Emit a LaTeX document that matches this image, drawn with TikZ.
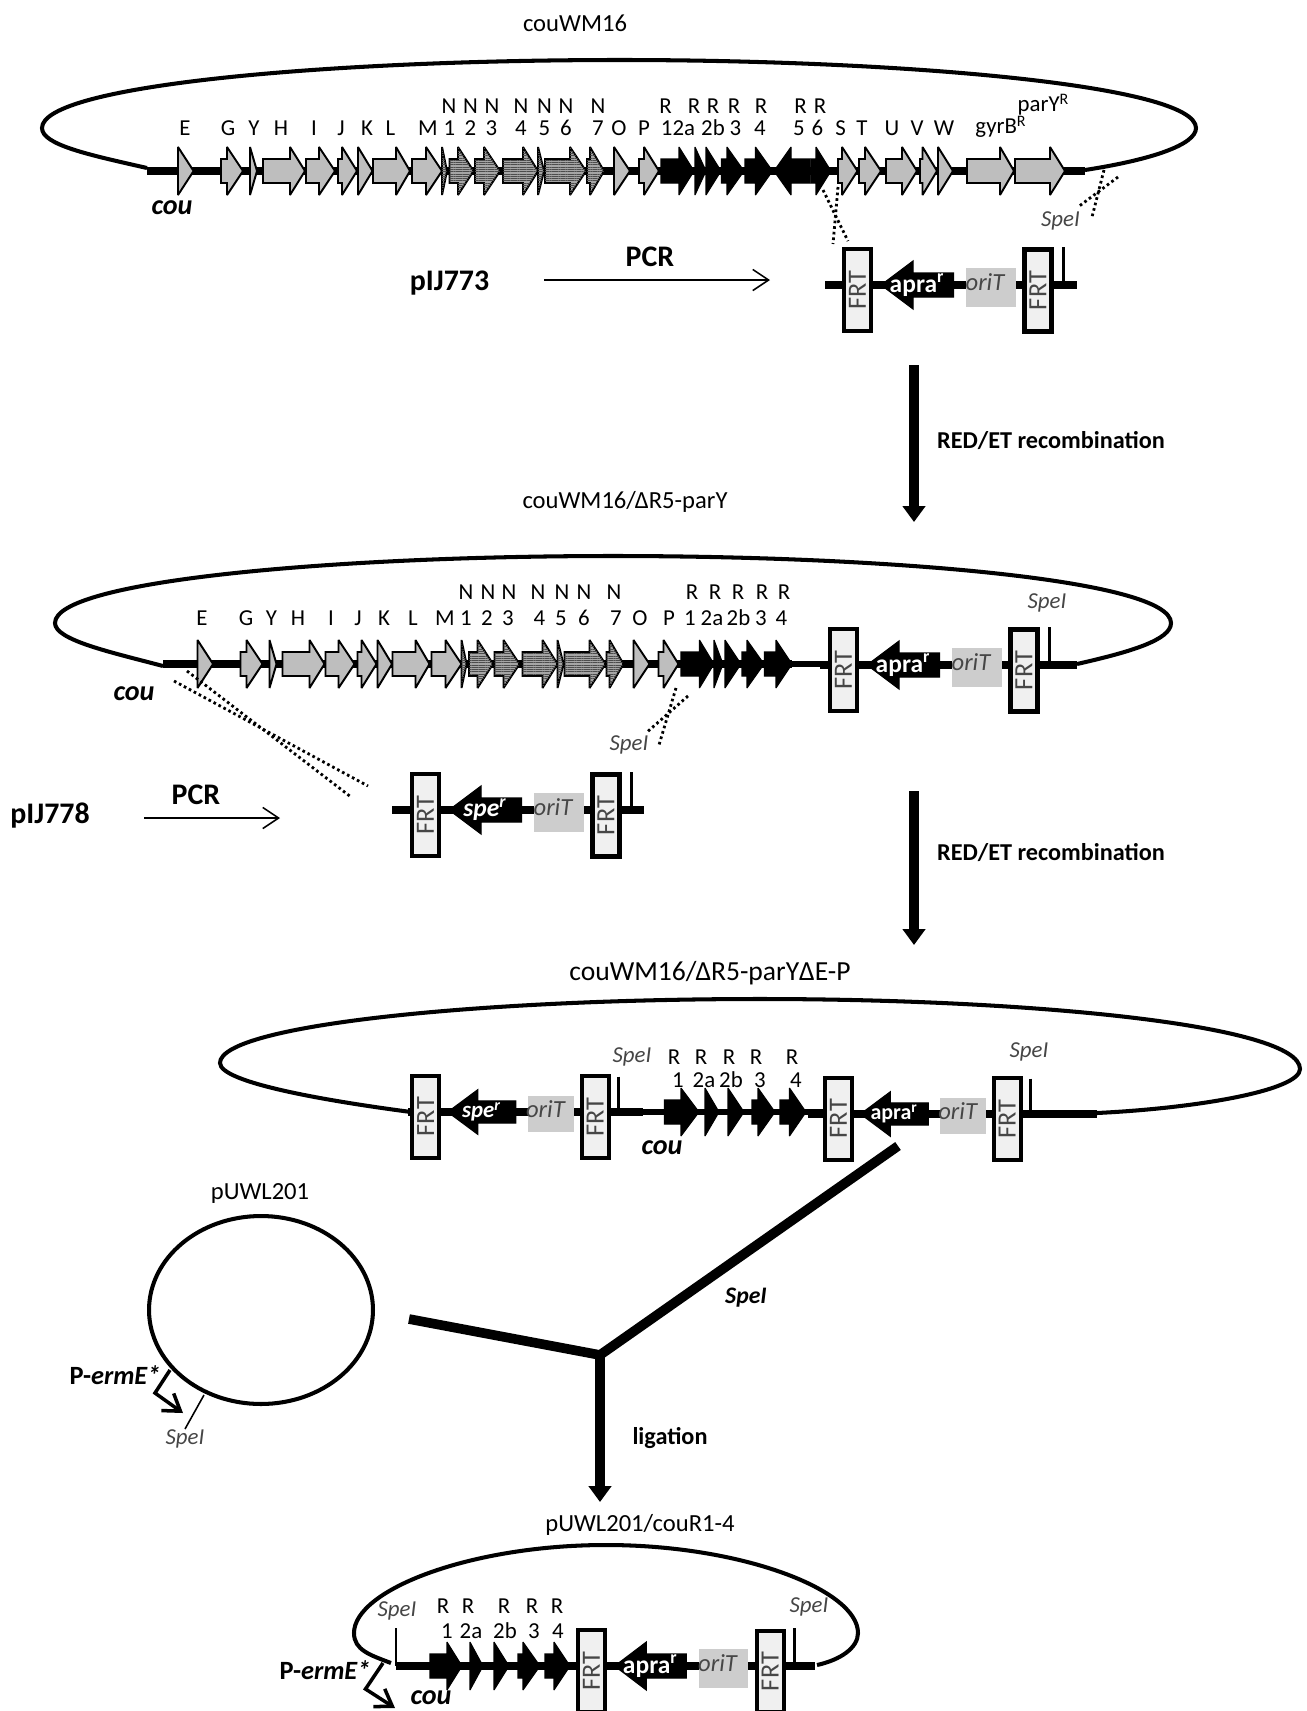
\documentclass[tikz,border=0pt]{standalone}
\usepackage{fontspec}
\setmainfont{Carlito}
\usepackage{xcolor}
\usepackage{tikz}
\usetikzlibrary{arrows.meta,patterns.meta,shapes.geometric}
\definecolor{genegrey}{RGB}{190,190,190}
\definecolor{hatchgrey}{RGB}{165,165,165}
\definecolor{oritgrey}{RGB}{205,205,205}
\definecolor{frtgrey}{RGB}{240,240,240}
\definecolor{inkgrey}{RGB}{70,70,70}

% one gene: start, head base, tip, axis
\newcommand{\genearrow}[5][greygene]{%
    \draw[#1] (#2,#5-12) -- (#3,#5-12) -- (#3,#5-24) -- (#4,#5)
        -- (#3,#5+24) -- (#3,#5+12) -- (#2,#5+12) -- cycle;}
% genes E to P of the cluster
\newcommand{\cougenes}{%
    \foreach \a/\b/\c in {178/178/193.6,221/227/243,250/250/257,263/290/305,306/319/335,
        338/342/357,358/358/372.5,373/396/410,412/426/442}
        {\genearrow{\a}{\b}{\c}{171}}
    \foreach \a/\b/\c in {442/442/447,449.5/458/473.5,475/484/500,503/523/538,538/538/544,
        545/570/586,587/590/604}
        {\genearrow[hatchgene]{\a}{\b}{\c}{171}}
    \foreach \a/\b/\c in {614/614/630,639/644/659}
        {\genearrow{\a}{\b}{\c}{171}}}
% resistance cassette between two FRT sites
\newcommand{\cassette}[8]{%
    \begin{scope}[shift={(#1,#2)},xscale=#3,yscale=#4]
        \draw[backbone] (#6,0) -- (#7,0);
        \draw[tick] (221,-38) -- (221,0);
        \genearrow[blackgene]{111.5}{71}{39}{0}
        \node[frtbox] (#8a) at (15.5,5) {}; 
        \node[frtbox] (#8b) at (196,5.5) {};
        \node[frttext] (#8at) at (15.5,5) {FRT};
        \node[frttext] (#8bt) at (196,5.5) {FRT};
        \fill[oritgrey] (124,-17) rectangle (173.5,22);
        \node[orilabel] (#8o) at (143,-3) {oriT};
        \node[reslabel] (#8r) at (75,0) {#5};
    \end{scope}}

\begin{document}
\begin{tikzpicture}[x=0.02cm, y=-0.02cm,
    every node/.style={font=\fontsize{13.5}{15}\selectfont, inner sep=0pt},
    greygene/.style={draw=black, line width=1.1pt, miter limit=2.5, fill=genegrey},
    hatchgene/.style={draw=black, line width=1.1pt, miter limit=2.5, fill=hatchgrey,
        postaction={pattern={Lines[angle=0,distance=1.3pt,line width=.3pt]}, pattern color=black!70}},
    blackgene/.style={draw=black, line width=.6pt, miter limit=2.5, fill=black},
    backbone/.style={line width=4.5pt, black},
    thinbone/.style={line width=3pt, black},
    plasmid/.style={line width=2.3pt, black},
    tick/.style={line width=1.7pt, black},
    dotline/.style={line width=1.6pt, black, dash pattern=on 1.5pt off 1.7pt},
    pcrarrow/.style={-{Straight Barb[length=9pt,width=12pt]}, line width=.9pt, black},
    bigarrow/.style={-{Triangle[length=9pt,width=12.5pt]}, line width=5.5pt, black},
    promoter/.style={-{Straight Barb[length=9pt,width=12pt]}, line width=2pt, black},
    frtbox/.style={draw=black, line width=2.3pt, fill=frtgrey, minimum width=.54cm, minimum height=1.64cm},
    frttext/.style={rotate=90, text=inkgrey, font=\fontsize{15}{15}\selectfont},
    orilabel/.style={text=inkgrey, font=\fontsize{14}{15}\itshape\selectfont},
    reslabel/.style={text=white, font=\fontsize{14.5}{15}\bfseries\selectfont},
    genelabel/.style={text height=8.6pt, text depth=0pt, font=\fontsize{13}{15}\selectfont},
    spelabel/.style={text=inkgrey, font=\fontsize{13}{15}\itshape\selectfont},
    coulabel/.style={font=\fontsize{16}{18}\bfseries\itshape\selectfont},
    titlelabel/.style={font=\fontsize{14}{15}\selectfont},
    pcrlabel/.style={font=\fontsize{17}{18}\bfseries\selectfont},
    steplabel/.style={font=\fontsize{13.8}{15}\bfseries\selectfont},
    prolabel/.style={font=\fontsize{15}{15}\bfseries\selectfont}
]
    \useasboundingbox (0,0) rectangle (1306,1711);

    % couWM16
    \node[titlelabel] (wm) at (575,23) {couWM16};
    \draw[plasmid] (147,168) .. controls (90,155) and (42,145) .. (42,128)
        .. controls (42,85) and (330,60) .. (620,60)
        .. controls (900,60) and (1196,85) .. (1196,128)
        .. controls (1196,145) and (1150,160) .. (1085,170);
    \draw[backbone] (147,171) -- (1085,171);
    \cougenes
    \foreach \a/\b/\c in {661/679/694,695/695/706,706/706/721,721.5/727/744,745/755.5/772.5,
        810/791/774,811/816/831}
        {\genearrow[blackgene]{\a}{\b}{\c}{171}}
    \foreach \a/\b/\c in {838/842/857.5,859/865/881,886/902/917,920/922.5/937,938/938/953,
        967/1000/1014,1015/1050/1065}
        {\genearrow{\a}{\b}{\c}{171}}
    % Gene names
    \foreach \lx/\lt [count=\i] in {185/E,228/G,254/Y,281/H,314/I,341/J,367/K,390.5/L,428/M,449.5/1,
        470.5/2,491.5/3,521/4,544.5/5,566/6,598/7,619/O,644/P,678/12a,713/2b,
        735.5/3,760/4,799/5,817.5/6,840.5/S,862/T,892/U,917/V,944/W}
        {\node[genelabel] (wmlow\i) at (\lx,128) {\lt};}
    \foreach \lx/\lt [count=\i] in {449/N,470.5/N,492/N,521/N,544.5/N,566/N,598/N,665.5/R,694/R,713/R,
        734/R,761/R,800.5/R,820/R}
        {\node[genelabel] (wmup\i) at (\lx,106) {\lt};}
    \node[genelabel, text depth=2pt] (gyr) at (1001,128) {gyrB\textsuperscript{R}};
    \node[genelabel, text depth=2pt] (par) at (1043.5,106) {parY\textsuperscript{R}};
    \node[coulabel] (couA) at (172,208) {cou};
    % Dotted homology lines
    \draw[dotline] (823,190) -- (848,241);
    \draw[dotline] (838,187) -- (833,244);
    \draw[dotline] (1104,170) -- (1092,217);
    \draw[dotline] (1118,177) -- (1078,207);
    \node[spelabel] (speA) at (1060.5,221) {SpeI};

    % PCR product with apra
    \node[pcrlabel] (pa) at (449.5,283) {pIJ773};
    \node[pcrlabel] (pcrA) at (650,257) {PCR};
    \coordinate (pcrAs) at (544,280);
    \coordinate (pcrAe) at (770,280);
    \draw[pcrarrow] (pcrAs) -- (pcrAe);
    \cassette{842}{285}{1}{1}{apra\textsuperscript{r}}{-17}{235}{ca}

    \coordinate (recAs) at (914,365);
    \coordinate (recAe) at (914,522);
    \draw[bigarrow] (recAs) -- (recAe);
    \node[steplabel] (recA) at (1051,441) {RED/ET recombination};

    % couWM16/dR5-parY
    \node[titlelabel] (dr) at (625,502) {couWM16/ΔR5-parY};
    \draw[plasmid] (163,666) .. controls (110,652) and (55,640) .. (55,623)
        .. controls (55,580) and (340,556) .. (613,556)
        .. controls (890,556) and (1171,580) .. (1171,623)
        .. controls (1171,640) and (1130,652) .. (1077,664);
    \draw[backbone] (163,664) -- (792,664);
    \draw[thinbone] (792,664) -- (828,664);
    \begin{scope}[shift={(19.5,493)}]
        \cougenes
    \end{scope}
    \foreach \a/\b/\c in {681/699.5/714,714/714/723,725/725/741,742/747/764,764.5/776/792}
        {\genearrow[blackgene]{\a}{\b}{\c}{664}}
    \cassette{828}{665}{1}{1}{apra\textsuperscript{r}}{-8}{249}{cb}
    \foreach \lx/\lt [count=\i] in {202/E,246/G,271.5/Y,298/H,331/I,358/J,384/K,413/L,445/M,466/1,
        487/2,508/3,539.5/4,561/5,584/6,616/7,640/O,669/P,690/1,712/2a,738.5/2b,761/3,781.5/4}
        {\node[genelabel] (drlow\i) at (\lx,618) {\lt};}
    \foreach \lx/\lt [count=\i] in {466/N,488/N,509/N,538/N,562/N,584/N,614/N,692/R,715/R,738/R,
        762/R,784/R}
        {\node[genelabel] (drup\i) at (\lx,592) {\lt};}
    \node[coulabel] (couB) at (134,694) {cou};
    \node[spelabel] (speB) at (1047,603) {SpeI};
    \draw[dotline] (187,671) -- (351,797);
    \draw[dotline] (174,681) -- (368,786);
    \draw[dotline] (676,688) -- (659,745);
    \draw[dotline] (688,696) -- (646,733);
    \node[spelabel] (speC) at (629,745) {SpeI};

    % PCR product with spe
    \node[pcrlabel] (pb) at (50,816) {pIJ778};
    \node[pcrlabel] (pcrB) at (196,795) {PCR};
    \coordinate (pcrBs) at (144,818);
    \coordinate (pcrBe) at (280,818);
    \draw[pcrarrow] (pcrBs) -- (pcrBe);
    \cassette{410}{810}{1}{1}{\itshape spe\textsuperscript{r}}{-18}{234}{cc}

    \coordinate (recBs) at (914,791);
    \coordinate (recBe) at (914,945);
    \draw[bigarrow] (recBs) -- (recBe);
    \node[steplabel] (recB) at (1051,853) {RED/ET recombination};

    % couWM16/dR5-parYdE-P
    \node[font=\fontsize{15.7}{17}\selectfont] (de) at (710,973) {couWM16/ΔR5-parYΔE-P};
    \draw[plasmid] (411,1112) .. controls (320,1100) and (220,1082) .. (220,1063)
        .. controls (220,1025) and (480,999) .. (760,999)
        .. controls (1030,999) and (1300,1025) .. (1300,1069)
        .. controls (1300,1090) and (1200,1108) .. (1097,1113);
    \draw[thinbone] (643,1112) -- (824,1112);
    \cassette{411}{1112}{.94}{.93}{\fontsize{13}{15}\selectfont\itshape spe\textsuperscript{r}}{-3}{247}{cd}
    \foreach \a/\b/\c in {664.5/681/699,705/705/719,728/728/744,752/758/775,780/789.5/806}
        {\genearrow[blackgene]{\a}{\b}{\c}{1112}}
    \cassette{824}{1114}{.935}{.93}{\fontsize{12.5}{15}\selectfont apra\textsuperscript{r}}{-17}{292}{ce}
    \foreach \lx/\lt [count=\i] in {678/1,704/2a,731/2b,760/3,796/4}
        {\node[genelabel] (delow\i) at (\lx,1080) {\lt};}
    \foreach \lx/\lt [count=\i] in {674/R,701/R,729/R,756/R,792/R}
        {\node[genelabel] (deup\i) at (\lx,1057) {\lt};}
    \node[spelabel] (speD) at (632,1057) {SpeI};
    \node[spelabel] (speE) at (1029,1052) {SpeI};
    \node[coulabel] (couC) at (662,1148) {cou};

    % pUWL201
    \node[titlelabel] (uw) at (260,1193) {pUWL201};
    \node[draw=black, line width=2.3pt, ellipse, minimum width=4.48cm, minimum height=3.76cm] (circ) at (261,1310) {};
    \node[prolabel] (pe) at (115,1375) {P-\textit{ermE*}};
    \coordinate (pra) at (170,1370);
    \coordinate (prb) at (155,1393);
    \coordinate (prc) at (183,1413);
    \draw[promoter] (pra) -- (prb) -- (prc);
    \coordinate (spa) at (204,1395);
    \coordinate (spb) at (185,1429);
    \draw[line width=.9pt] (spa) -- (spb);
    \node[spelabel] (speF) at (185,1439) {SpeI};

    % Fork to ligation
    \coordinate (fork) at (600,1355);
    \coordinate (forkr) at (898,1146);
    \coordinate (forkl) at (409,1319);
    \coordinate (forke) at (600,1502);
    \draw[line width=5.5pt] (forkr) -- (fork) -- (forkl);
    \draw[bigarrow] (fork) -- (forke);
    \node[font=\fontsize{13.5}{15}\bfseries\itshape\selectfont] (speG) at (746,1298) {SpeI};
    \node[steplabel] (lig) at (670,1438) {ligation};

    % pUWL201/couR1-4
    \node[titlelabel] (fin) at (640,1525) {pUWL201/couR1-4};
    \draw[plasmid] (391,1663) .. controls (370,1655) and (354,1650) .. (354,1633)
        .. controls (354,1590) and (470,1545) .. (606,1545)
        .. controls (742,1545) and (858,1590) .. (858,1633)
        .. controls (858,1648) and (840,1660) .. (817,1665);
    \draw[backbone] (396,1666) -- (576,1666);
    \draw[tick] (396,1628) -- (396,1666);
    \foreach \a/\b/\c in {430/447/462,470/470/483,494/494/509,518/523/540,545/554/570}
        {\genearrow[blackgene]{\a}{\b}{\c}{1666}}
    \cassette{576}{1666}{.99}{1}{apra\textsuperscript{r}}{-6}{241}{cf}
    \foreach \lx/\lt [count=\i] in {447/1,471/2a,505/2b,534/3,558/4}
        {\node[genelabel] (filow\i) at (\lx,1631) {\lt};}
    \foreach \lx/\lt [count=\i] in {443/R,468/R,504/R,532/R,557/R}
        {\node[genelabel] (fiup\i) at (\lx,1606) {\lt};}
    \node[spelabel] (speH) at (397,1611) {SpeI};
    \node[spelabel] (speI) at (809,1607) {SpeI};
    \node[prolabel] (pf) at (325,1670) {P-\textit{ermE*}};
    \coordinate (pfa) at (383,1663);
    \coordinate (pfb) at (365.5,1689);
    \coordinate (pfc) at (395,1708);
    \draw[promoter] (pfa) -- (pfb) -- (pfc);
    \node[coulabel] (couD) at (431,1698) {cou};
\end{tikzpicture}
\end{document}
